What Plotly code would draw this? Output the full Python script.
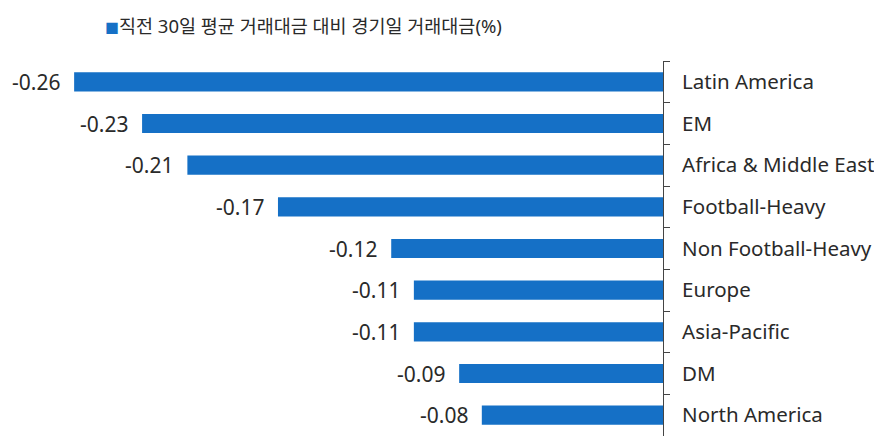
import plotly.graph_objects as go

categories = ["Latin America", "EM", "Africa & Middle East", "Football-Heavy",
              "Non Football-Heavy", "Europe", "Asia-Pacific", "DM", "North America"]
values = [-0.26, -0.23, -0.21, -0.17, -0.12, -0.11, -0.11, -0.09, -0.08]
series_name = "직전 30일 평균 거래대금 대비 경기일 거래대금(%)"

BLUE = "#1570C6"
TEXT = "#2a2a2a"
FONT = "Noto Sans, Noto Sans CJK KR"

# page body has an 8px default margin; size the figure to compensate
W, H = 874, 428
PLOT_W = 655

fig = go.Figure()
fig.add_trace(go.Bar(
    y=categories, x=values, orientation="h",
    marker=dict(color=BLUE, line=dict(width=0)),
    width=0.46, name=series_name, showlegend=False,
))

for c, v in zip(categories, values):
    fig.add_annotation(x=v, y=c, text=f"{v:.2f}", showarrow=False,
                       xanchor="right", xshift=-12,
                       font=dict(family=FONT, size=21, color=TEXT))

fig.add_annotation(xref="paper", yref="paper", x=95/PLOT_W, y=1.0, yshift=36,
                   xanchor="left", yanchor="middle", showarrow=False,
                   text=f"<span style='color:{BLUE};font-size:14px'>■</span>{series_name}",
                   font=dict(family=FONT, size=18.5, color=TEXT))

fig.update_layout(
    width=W, height=H,
    margin=dict(l=0, r=W - PLOT_W, t=53, b=0),
    plot_bgcolor="white", paper_bgcolor="white",
    font=dict(family=FONT, size=20.5, color=TEXT),
    xaxis=dict(range=[-0.2892, 0], visible=False, fixedrange=True),
    yaxis=dict(autorange="reversed", side="right", showline=True,
               linecolor="#444444", linewidth=1, ticks="outside",
               tickson="boundaries", ticklen=6, tickcolor="#444444",
               ticklabelstandoff=14, automargin=False,
               showgrid=False, zeroline=False,
               tickfont=dict(family=FONT, size=20.5, color=TEXT)),
)

fig.write_html("out.html")
